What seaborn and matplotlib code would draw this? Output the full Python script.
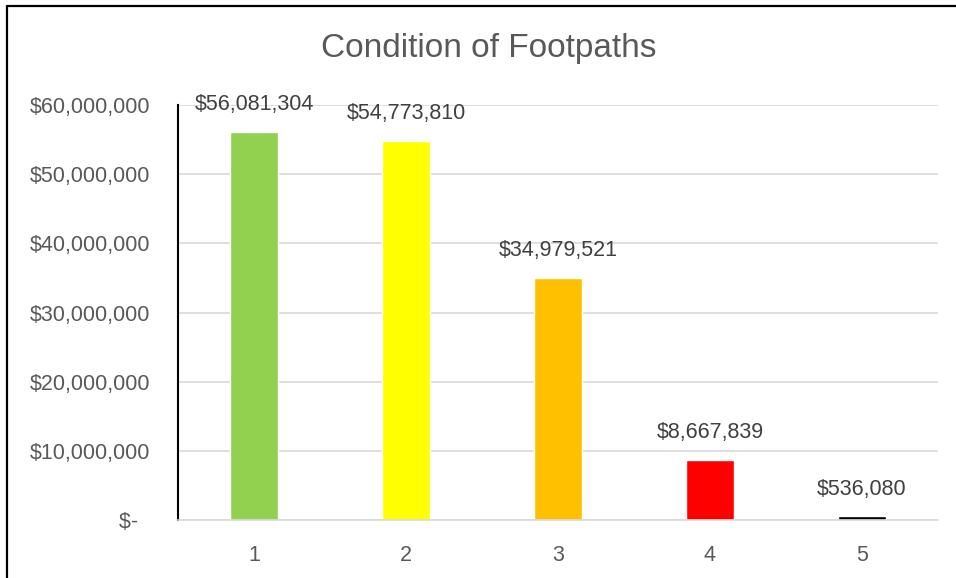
import numpy as np
import pandas as pd
import matplotlib
matplotlib.use("Agg")
import matplotlib.pyplot as plt
import seaborn as sns
from matplotlib.lines import Line2D
from matplotlib.ticker import FuncFormatter

# === Données ===
conditions = ["1", "2", "3", "4", "5"]
values = [56081304, 54773810, 34979521, 8667839, 536080]
bar_colors = ["#92D050", "#FFFF00", "#FFC000", "#FF0000", "#000000"]
y_ticks = [0, 10000000, 20000000, 30000000, 40000000, 50000000, 60000000]

df = pd.DataFrame({"condition": conditions, "value": values})

sns.set_theme(style="white")
plt.rcParams["font.family"] = ["Liberation Sans", "DejaVu Sans"]

fig = plt.figure(figsize=(9.56, 5.78), dpi=100)
ax = fig.add_axes([178 / 956, 1 - 520 / 578, 760 / 956, 415 / 578])

sns.barplot(data=df, x="condition", y="value", hue="condition", palette=bar_colors,
            legend=False, width=0.31, saturation=1, ax=ax)

ax.set_ylim(0, 60000000)
ax.set_yticks(y_ticks)
ax.yaxis.set_major_formatter(FuncFormatter(lambda v, p: "$-  " if v == 0 else f"${v:,.0f}"))
ax.grid(axis="y", color="#D9D9D9", linewidth=1.2)
ax.set_axisbelow(True)
ax.set_xlabel("")
ax.set_ylabel("")

for s in ["top", "right"]:
    ax.spines[s].set_visible(False)
ax.spines["left"].set_color("black")
ax.spines["left"].set_linewidth(1.5)
ax.spines["bottom"].set_color("#D9D9D9")
ax.spines["bottom"].set_linewidth(1.2)

ax.tick_params(axis="y", length=0, pad=20, labelsize=15.5, labelcolor="#595959")
ax.tick_params(axis="x", length=0, pad=18, labelsize=15.5, labelcolor="#595959")

# étiquettes de données
for i, v in enumerate(values):
    ax.annotate(f"${v:,.0f}", (i, v), xytext=(0, 12), textcoords="offset points",
                ha="center", va="bottom", fontsize=15.5, color="#404040")

fig.text(0.511, 1 - 49 / 578, "Condition of Footpaths", ha="center", va="center",
         fontsize=24, color="#595959")

# cadre
fig.add_artist(Line2D([7 / 956, 1], [1 - 6 / 578, 1 - 6 / 578], color="black", linewidth=1.6,
                      transform=fig.transFigure))
fig.add_artist(Line2D([7 / 956, 7 / 956], [0, 1 - 6 / 578], color="black", linewidth=1.6,
                      transform=fig.transFigure))

fig.savefig("out.png", dpi=100)
